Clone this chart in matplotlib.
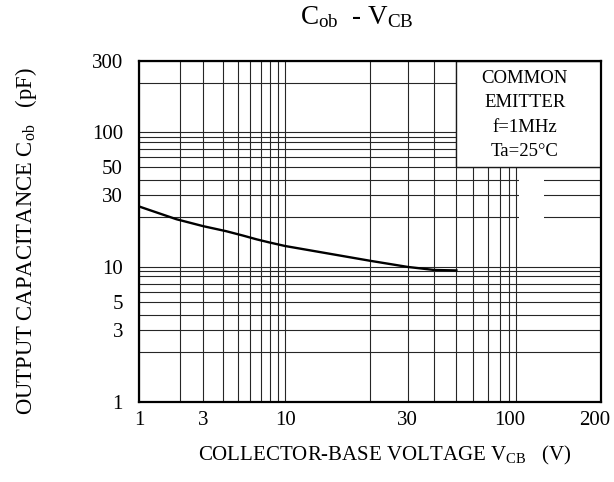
import numpy as np
import matplotlib
matplotlib.use('Agg')
import matplotlib.pyplot as plt
import matplotlib.transforms as mtransforms
from matplotlib.patches import Rectangle

plt.rcParams['font.family'] = ['Liberation Serif', 'DejaVu Serif']
plt.rcParams['mathtext.fontset'] = 'custom'
plt.rcParams['mathtext.rm'] = 'Liberation Serif'
plt.rcParams['mathtext.it'] = 'Liberation Serif:italic'

# curve
vcb = [1, 1.9, 3, 4.2, 5.4, 6.6, 7.9, 10, 20, 30, 40, 50]
cob = [24.5, 19.5, 17.7, 16.5, 15.5, 14.7, 14.1, 13.4, 10.9, 10.0, 9.3, 9.2]

x_ticks = [1, 3, 10, 30, 100, 200]
y_ticks = [1, 3, 5, 10, 30, 50, 100, 300]
note = ['COMMON', 'EMITTER', 'f=1MHz', 'Ta=25°C']

# the graph paper is not a true log scale: where 1..10 sit inside a decade
paper = [0, .367, .530, .645, .741, .812, .876, .930, .967, 1.0]


def paper_knots(first, ndec):
    vals, pos = [], []
    for d in range(first, first + ndec):
        for m in range(1, 10):
            vals.append(m * 10.0 ** d)
            pos.append(d + paper[m - 1])
    vals.append(10.0 ** (first + ndec))
    pos.append(first + ndec)
    return np.array(vals), np.array(pos)


def scale_funcs(vals, pos):
    lv = np.log10(vals)

    def fwd(v):
        v = np.clip(np.asarray(v, dtype=float), 1e-6, None)
        return np.interp(np.log10(v), lv, pos)

    def inv(p):
        return 10 ** np.interp(p, pos, lv)

    return fwd, inv


y_vals, y_pos = paper_knots(0, 3)
xv, xp = paper_knots(1, 2)
# on the x axis the 1..10 decade is squeezed onto the 2..10 part of the paper
x_vals = np.r_[1, 3, xv]
x_pos = np.r_[paper[1], paper[3], xp]

x_minor = [2, 4, 5, 6, 7, 8, 9] + [v for v in xv if 10 < v < 100 and v not in x_ticks]
y_minor = [v for v in y_vals if 1 < v < 300 and v not in y_ticks]

fig = plt.figure(figsize=(6.14, 4.82), dpi=100)
ax = fig.add_axes([139 / 614, 1 - 401.7 / 482, 462 / 614, 341 / 482])
ax.set_xscale('function', functions=scale_funcs(x_vals, x_pos))
ax.set_yscale('function', functions=scale_funcs(y_vals, y_pos))
ax.set_xlim(1, 200)
ax.set_ylim(1, 300)

ax.set_xticks(x_ticks, labels=[str(v) for v in x_ticks])
ax.set_yticks(y_ticks, labels=[str(v) for v in y_ticks])
ax.set_xticks(x_minor, minor=True)
ax.set_yticks(y_minor, minor=True)
ax.xaxis.set_minor_formatter(plt.NullFormatter())
ax.yaxis.set_minor_formatter(plt.NullFormatter())

ax.set_axisbelow(True)
ax.grid(which='both', color='0.15', lw=0.8)
ax.tick_params(which='both', length=0)
ax.tick_params(axis='x', pad=7, labelsize=15)
ax.tick_params(axis='y', pad=11.5, labelsize=15)
for s in ax.spines.values():
    s.set_linewidth(1.6)

# the last two x labels sit a little left of their lines on the original
shift = mtransforms.ScaledTranslation(-6 / 100, 0, fig.dpi_scale_trans)
for lab in ax.get_xticklabels()[-2:]:
    lab.set_transform(lab.get_transform() + shift)

# white panel for the conditions, and the small gap in the 20-40 lines
ax.add_patch(Rectangle((50, 50), 150, 250, facecolor='white',
                       edgecolor='0.1', lw=1, zorder=1))
ax.add_patch(Rectangle((102, 17), 24, 31, facecolor='white',
                       edgecolor='none', zorder=1))

ax.plot(vcb, cob, color='black', lw=1.7, zorder=3)

for i, s in enumerate(note):
    ax.text(0.835, 0.949 - i * 0.072, s, transform=ax.transAxes,
            ha='center', va='center', fontsize=13.5, zorder=4)

ax.set_title(r'$\mathregular{C_{ob}}$  - $\mathregular{V_{CB}}$',
             fontsize=19.5, x=0.472, y=1.102, va='center')
ax.set_xlabel(r'COLLECTOR-BASE VOLTAGE $\mathregular{V_{CB}}$   (V)',
              fontsize=15, va='center')
ax.xaxis.set_label_coords(0.532, -0.159)
ax.set_ylabel(r'OUTPUT CAPACITANCE $\mathregular{C_{ob}}$   (pF)',
              fontsize=16.3, va='center')
ax.yaxis.set_label_coords(-0.245, 0.471)

fig.savefig('out.png', dpi=100)
